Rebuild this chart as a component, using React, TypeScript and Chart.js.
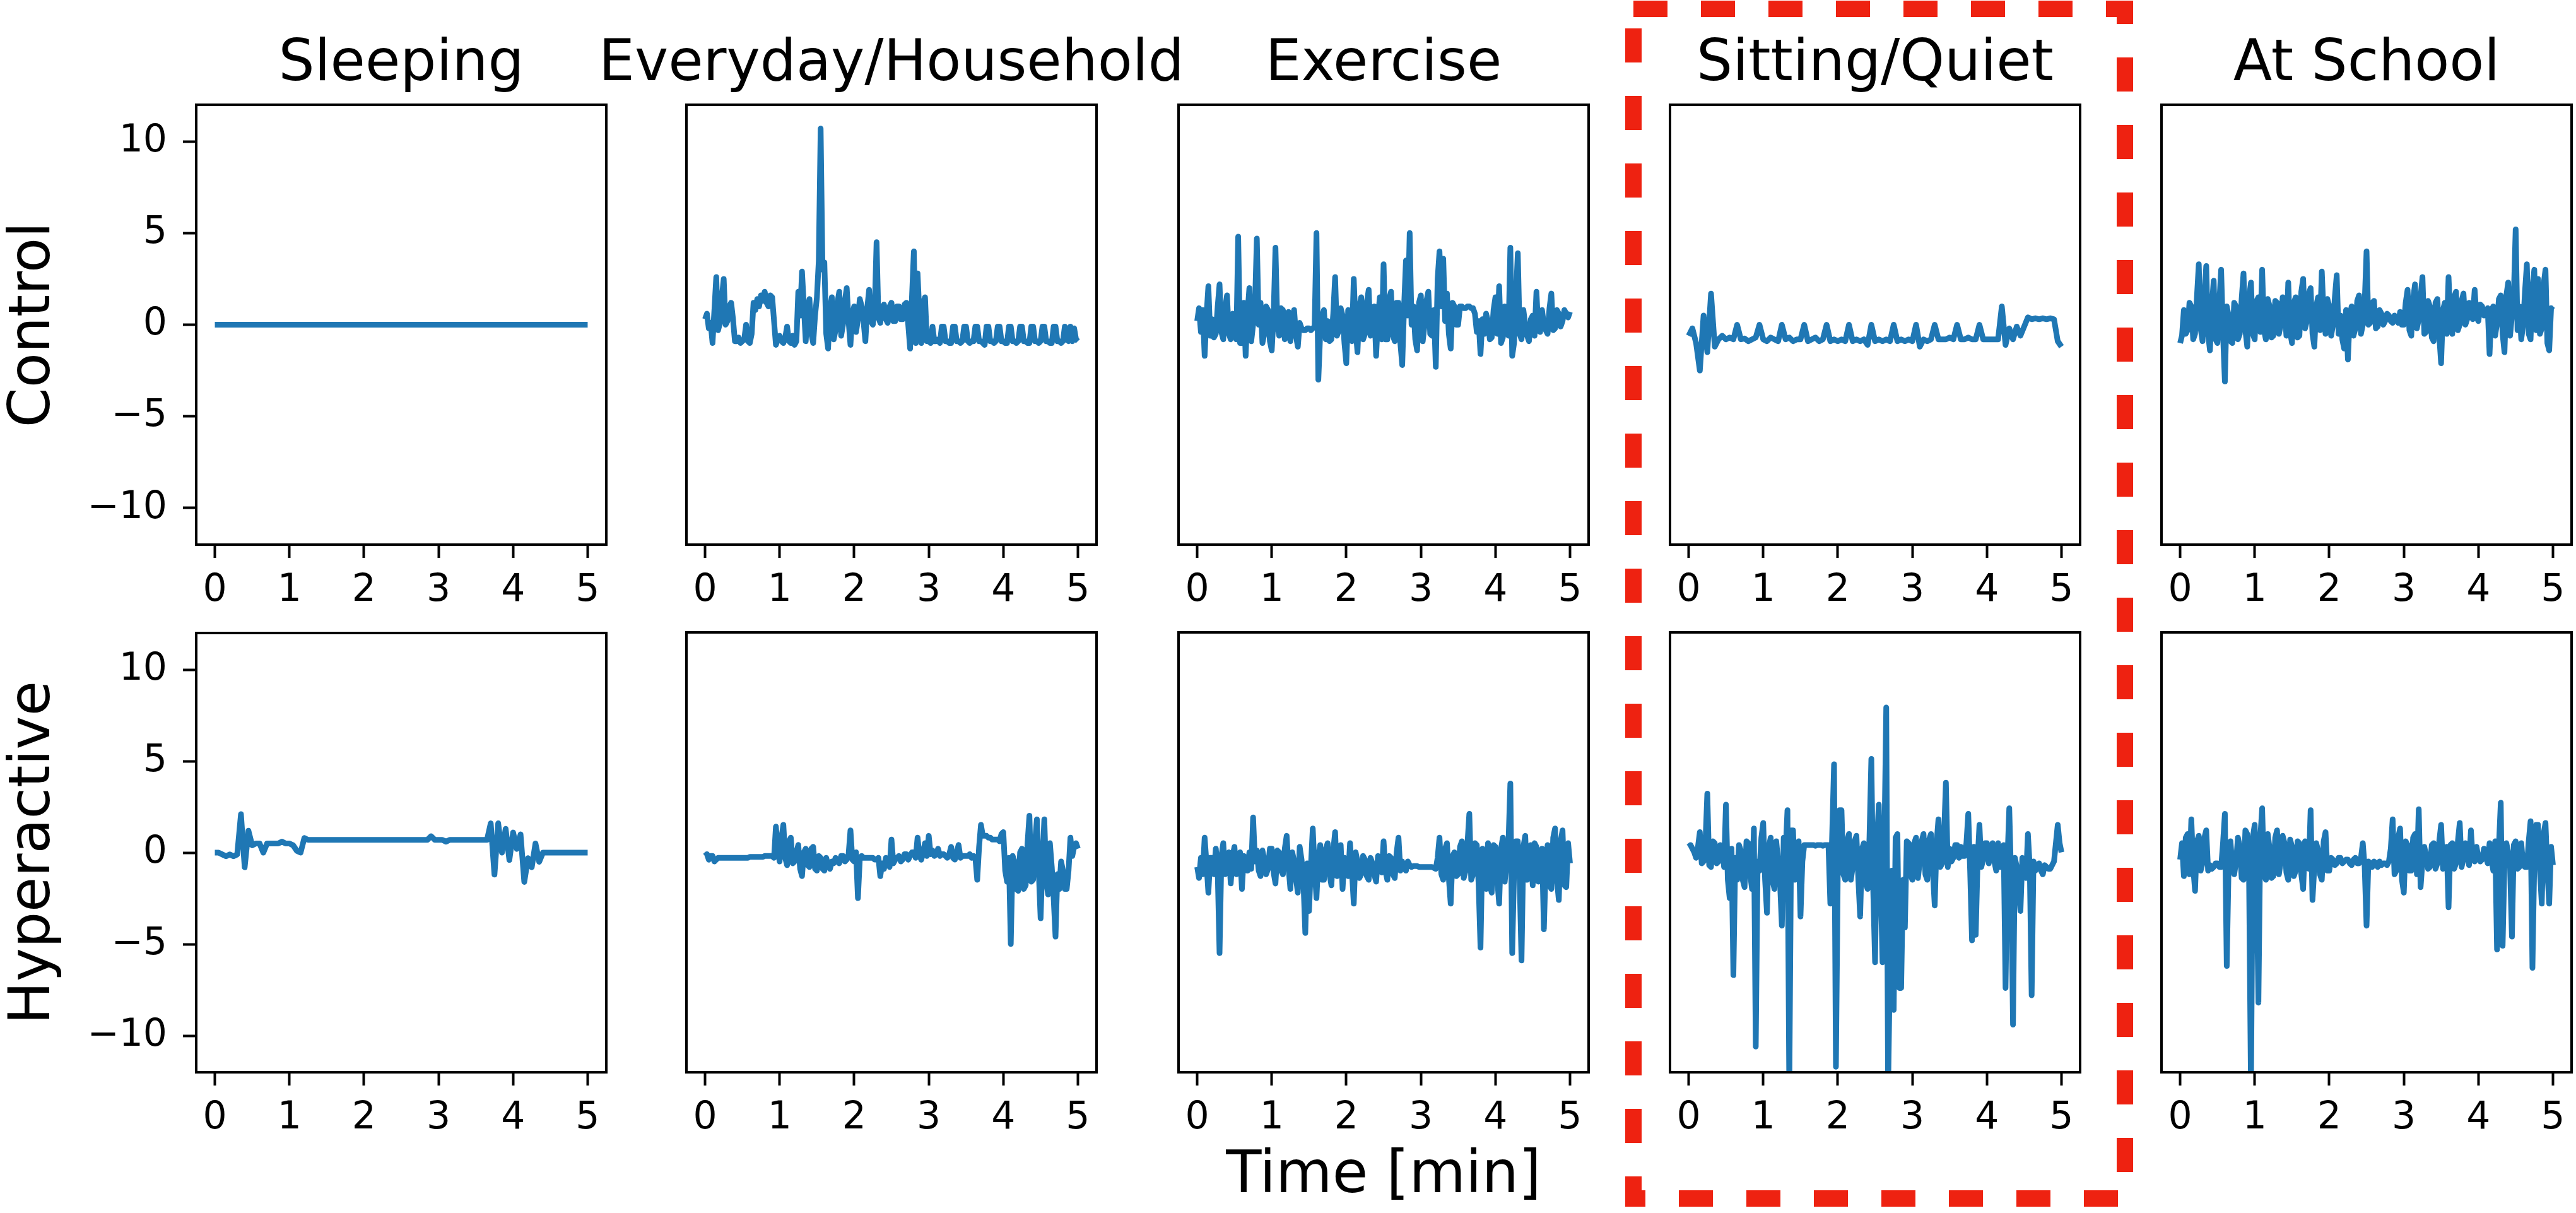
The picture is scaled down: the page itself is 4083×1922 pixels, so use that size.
import React, { useEffect, useRef } from "react";
import { Chart, registerables } from "chart.js";

Chart.register(...registerables);

// ---------------- data ----------------
const activities = ["Sleeping", "Everyday/Household", "Exercise", "Sitting/Quiet", "At School"];
const groups = ["Control", "Hyperactive"];
const xTickValues = [0, 1, 2, 3, 4, 5];
const yTickValues = [-10, -5, 0, 5, 10];
const timeMax = 5; // minutes

const controlSleeping = [0, 0, 0, 0, 0, 0, 0, 0, 0, 0, 0];

const controlEveryday = [
  0.3, 0.6, -0.2, 0.1, -1.0, 0.8, 2.6, -0.3, 0.1, 1.5, 2.5, 0.0, 0.2, 1.0, 1.2, 0.3, -0.9, -0.9, -0.7, -1.0,
  -0.9, -0.8, 0.0, -0.9, -1.0, -0.5, 1.2, 0.8, 1.4, 1.0, 1.6, 1.3, 1.8, 1.2, 1.0, 1.6, 1.5, 0.2, -1.1, -0.8,
  -0.6, -0.9, -1.0, -0.7, -0.1, -0.9, -1.0, -0.6, -1.1, -0.9, 1.8, 0.5, 2.9, 1.0, -0.9, 0.8, 1.4, -0.5, -1.0, 0.5,
  1.5, 3.5, 10.7, 3.0, 3.4, -0.5, -1.3, 0.9, 1.5, -0.8, -0.3, 1.2, 1.8, -0.6, 0.0, 1.3, 2.0, 0.2, -1.1, 0.6,
  1.0, -0.4, 0.3, 1.4, 1.0, 0.2, -0.9, 0.9, 1.9, 0.2, 0.0, 0.8, 4.5, 0.4, 0.1, 0.9, 1.1, 0.3, 0.1, 1.0,
  1.2, 0.2, 0.2, 1.0, 1.0, 0.3, 0.3, 1.1, 1.2, 0.0, -1.3, 1.5, 4.0, -1.0, 2.8, 0.5, -1.0, 1.2, 1.5, -0.9,
  -0.9, -1.0, -0.1, -0.9, -0.9, -0.8, -1.0, -0.1, -0.1, -0.9, -0.9, -1.0, -1.0, -0.1, -0.1, -0.9, -0.9, -1.0, -0.9, -0.1,
  -0.1, -0.9, -1.0, -0.9, -0.9, -0.1, -0.1, -0.9, -0.9, -1.0, -1.1, -0.1, -0.1, -0.9, -0.9, -1.0, -0.9, -0.1, -0.1, -0.9,
  -0.9, -1.0, -1.0, -0.1, -0.1, -0.9, -0.9, -1.0, -0.9, -0.1, -0.1, -0.9, -0.9, -1.0, -1.0, -0.1, -0.1, -0.9, -0.9, -1.0,
  -0.9, -0.1, -0.1, -0.9, -0.9, -1.0, -1.0, -0.1, -0.1, -0.9, -0.9, -1.0, -0.9, -0.1, -0.8, -0.9, -0.1, -0.9, -0.2, -0.8,
  -0.9,
];

const controlExercise = [
  0.2, 0.9, -0.4, 0.8, -1.7, 0.5, 2.1, -0.6, 0.3, -0.7, -0.5, 1.0, 2.2, -0.4, -0.8, 0.9, 1.6, -0.5, -0.8, 0.6,
  0.5, -0.8, 4.8, -1.0, -1.0, 1.2, -1.7, 0.6, 2.0, -0.9, 0.0, 1.0, 4.7, 0.0, 1.2, -1.0, -0.5, 1.0, 0.8, -0.9,
  -1.4, 0.5, 4.2, 0.0, -0.6, 0.9, 0.8, -0.8, -0.5, 0.7, -0.9, 0.2, 0.8, -0.6, -1.2, 0.1, -0.2, -0.3, -0.3, -0.2,
  -0.2, -0.3, -0.2, -0.1, 5.0, -3.0, -0.5, 0.5, 0.8, -0.8, 0.2, -0.9, -0.8, 0.6, 2.6, -0.6, -0.3, 0.9, 0.5, -1.0,
  -2.1, 0.8, 0.3, -0.9, 2.5, -0.2, -1.5, 1.0, 1.5, -0.8, -0.5, 1.2, 1.9, -0.6, -0.2, 1.0, -1.7, 0.4, 1.5, -0.8,
  3.3, -0.8, -0.8, 1.4, 1.8, -0.6, -0.9, 1.2, 1.2, -1.0, -2.2, 1.0, 3.5, 0.5, 5.0, 0.0, 1.0, -0.8, -1.4, 1.2,
  1.6, -0.9, 0.0, 1.3, 1.8, -0.5, -0.6, 0.8, -2.3, 2.5, 4.0, 1.0, 3.6, 0.2, 1.7, -0.5, -1.3, 1.2, 1.0, 0.0,
  0.0, 1.0, 1.0, 0.9, 0.9, 1.0, 1.0, 0.9, 0.9, 0.6, -0.4, 0.2, -1.6, 0.3, -0.5, 0.6, 0.2, -0.8, -0.7, 0.8,
  1.5, -0.5, 2.1, -1.0, -0.7, 1.0, 0.8, -0.6, 4.2, -1.7, -1.0, 1.5, 3.9, -0.5, -0.8, 0.8, 0.0, -0.6, -0.9, 0.3,
  0.5, -0.6, 1.8, -0.3, -0.4, 0.8, 0.0, -0.3, -0.5, 0.9, 1.7, -0.3, -0.2, 0.8, 0.6, -0.1, 0.2, 0.8, 0.6, 0.4,
  0.7,
];

const controlSitting = [
  -0.6, -0.2, -1.0, -2.5, 0.5, -1.5, 1.7, -1.2, -0.8, -0.6,
  -0.8, -0.7, -0.8, 0.0, -0.8, -0.75, -0.9, -0.8, -0.7, 0.0,
  -0.8, -0.9, -0.7, -0.8, -0.9, 0.0, -0.8, -0.7, -0.9, -0.8,
  -0.8, 0.0, -0.9, -0.8, -0.7, -0.9, -0.8, 0.0, -0.9, -0.8,
  -0.9, -0.8, -0.9, 0.0, -0.9, -0.8, -0.9, -0.8, -1.1, 0.0,
  -0.9, -0.8, -0.9, -0.8, -0.9, 0.0, -0.9, -0.8, -0.9, -0.8,
  -0.9, 0.0, -1.2, -0.8, -0.9, -0.8, 0.0, -0.8, -0.8, -0.8,
  -0.7, -0.8, 0.0, -0.8, -0.8, -0.7, -0.8, -0.8, 0.0, -0.8,
  -0.8, -0.8, -0.8, -0.8, 1.0, -1.1, -0.2, -0.8, -0.1, -0.6,
  -0.1, 0.4, 0.3, 0.35, 0.3, 0.35, 0.3, 0.35, 0.3, -0.9,
  -1.2,
];

const controlSchool = [
  -1.0, -0.6, 0.8, -0.5, -0.3, 1.2, 1.0, -0.8, -0.5, 1.5, 3.3, -0.2, -0.9, 1.5, 3.2, -0.5, -1.4, 1.0, 2.4, -0.8,
  -1.0, 1.2, 3.0, -0.5, -3.1, 1.0, 0.5, -0.9, -1.0, 1.2, 1.0, -0.8, -0.5, 1.4, 2.8, -0.3, -1.2, 1.5, 2.3, -0.5,
  -0.8, 1.3, 1.5, -0.4, 3.0, -0.3, -0.8, 1.4, 1.0, -0.7, -0.6, 1.3, 1.2, -0.5, 0.0, 1.5, 1.0, -0.6, 2.3, -0.4,
  -1.0, 1.2, 1.5, -0.7, -0.6, 1.8, 2.5, -0.2, 0.2, 1.7, 2.0, -0.5, -1.2, 1.0, 1.5, -0.3, 2.9, 0.5, -0.5, 1.4,
  1.0, -0.6, 0.0, 1.5, 2.7, -0.5, 0.5, -0.8, -1.3, 0.8, -1.9, 0.5, 1.0, -0.6, -0.2, 1.3, 1.6, -0.5, 0.0, 1.2,
  4.0, 0.0, 0.1, 1.2, 1.3, -0.2, -0.1, 0.8, 0.6, 0.0, 0.2, 0.6, 0.5, 0.2, 0.1, 0.5, 0.4, 0.1, 0.7, 0.0,
  0.0, 1.2, 1.9, -0.3, -0.6, 1.4, 2.2, -0.2, 0.3, 1.5, 2.6, -0.5, -0.4, 1.3, 1.0, -0.7, -0.9, 1.2, 1.4, -0.6,
  -2.1, 0.8, 1.2, -0.5, 2.6, 0.2, -0.5, 1.5, 1.8, -0.3, 0.0, 1.3, 1.7, 0.0, 0.3, 1.2, 0.8, 0.3, 1.9, 0.4,
  0.2, 1.1, 1.0, 0.5, 0.8, 0.9, -1.6, 0.8, 1.0, -0.6, 0.1, 1.4, 1.6, -0.5, -1.5, 1.6, 2.3, -0.6, 0.5, 1.6,
  5.2, -0.3, 1.0, -0.8, 0.0, 1.8, 3.3, -0.5, -0.8, 2.0, 3.0, -0.3, 2.5, -0.5, -0.2, 2.2, 3.0, -1.0, -1.4, 0.9,
  0.8,
];

const hyperSleeping = [
  0.0, 0.0, -0.1, -0.2, -0.1, -0.2, -0.1, 2.1, -0.8, 1.2,
  0.4, 0.5, 0.5, 0.0, 0.5, 0.5, 0.5, 0.5, 0.6, 0.5,
  0.5, 0.4, 0.1, 0.0, 0.8, 0.7, 0.7, 0.7, 0.7, 0.7,
  0.7, 0.7, 0.7, 0.7, 0.7, 0.7, 0.7, 0.7, 0.7, 0.7,
  0.7, 0.7, 0.7, 0.7, 0.7, 0.7, 0.7, 0.7, 0.7, 0.7,
  0.7, 0.7, 0.7, 0.7, 0.7, 0.7, 0.7, 0.7, 0.9, 0.7,
  0.7, 0.7, 0.6, 0.7, 0.7, 0.7, 0.7, 0.7, 0.7, 0.7,
  0.7, 0.7, 0.7, 0.7, 1.6, -1.2, 1.6, 0.0, 1.3, -0.4,
  1.1, 0.2, 1.0, -1.6, -0.3, -0.8, 0.5, -0.5, 0.0, 0.0,
  0.0, 0.0, 0.0, 0.0, 0.0, 0.0, 0.0, 0.0, 0.0, 0.0,
  0.0,
];

const hyperEveryday = [
  -0.2, -0.1, -0.4, -0.2, -0.2, -0.5, -0.4, -0.3, -0.3, -0.3, -0.3, -0.3, -0.3, -0.3, -0.3, -0.3, -0.3, -0.3, -0.3, -0.3,
  -0.3, -0.3, -0.3, -0.3, -0.25, -0.25, -0.25, -0.25, -0.25, -0.25, -0.25, -0.25, -0.2, -0.2, -0.2, -0.2, -0.2, -0.3, 1.4, 0.2,
  -0.5, 0.8, 1.5, -0.3, -0.7, 0.6, 0.8, -0.6, -0.5, 0.0, 0.4, -0.9, -1.3, 0.0, 0.2, -0.7, -0.8, 0.2, 0.3, -0.9,
  -1.0, -0.2, -0.3, -0.9, -1.0, -0.3, -0.7, -0.9, -0.5, -0.6, -0.3, -0.5, -0.6, -0.2, -0.2, -0.5, -0.4, -0.1, 1.2, -0.4,
  -0.5, 0.0, -2.5, -0.4, -0.2, -0.3, -0.3, -0.3, -0.3, -0.3, -0.3, -0.4, -0.4, -0.3, -1.3, -0.6, -0.9, -0.3, -0.6, -0.8,
  0.7, -0.6, -0.4, -0.3, -0.2, -0.5, -0.4, -0.1, -0.1, -0.4, -0.2, 0.0, 0.0, -0.3, 0.8, -0.2, -0.4, 0.0, 0.5, -0.2,
  0.9, -0.1, 0.1, -0.2, -0.1, 0.2, -0.2, -0.1, -0.1, -0.2, -0.3, -0.1, 0.3, -0.3, -0.4, 0.0, 0.4, -0.3, -0.2, -0.2,
  -0.2, -0.2, -0.1, -0.3, -0.2, -0.3, -1.5, 0.3, 1.5, 0.9, 0.9, 0.9, 0.8, 0.8, 0.7, 0.7, 0.7, 0.7, 0.6, 1.0,
  1.1, -1.0, -1.6, -0.3, -5.0, -0.2, -0.5, -2.0, -2.1, 0.0, 0.2, -2.0, -1.8, 0.5, 2.0, -1.6, -1.5, 0.5, 1.8, -1.0,
  -3.6, -0.5, 1.8, -1.5, -2.3, 0.5, -0.8, -2.5, -4.6, -1.2, -2.0, -0.5, -1.0, -2.0, -2.0, -1.0, 0.8, -0.2, 0.3, 0.5,
  0.2,
];

const hyperExercise = [
  -0.8, -1.4, -0.3, -1.2, 0.8, -0.6, -2.2, -0.3, -0.3, -1.2, 0.2, -1.0, -5.5, -0.2, 0.5, -1.2, -1.0, 0.0, -1.7, -0.2,
  0.3, -1.2, -0.6, 0.0, -2.0, -0.2, -0.3, -1.0, 0.0, -0.9, 1.9, -0.5, 0.1, -1.0, -1.3, 0.1, -0.4, -1.2, -0.9, 0.2,
  0.2, -1.1, -1.7, 0.1, 0.0, -1.0, -1.2, 0.2, 0.9, -0.8, -2.0, 0.0, -0.5, -1.4, -2.2, 0.3, -0.4, -1.6, -4.4, -0.6,
  -3.2, -0.8, 1.3, -0.9, -2.5, -0.3, 0.4, -1.5, -1.5, 0.2, 0.5, -1.2, -1.8, 0.1, 1.1, -1.3, -0.6, 0.4, -2.0, -0.3,
  -0.4, -1.3, 0.5, -1.0, -2.8, 0.0, -0.5, -1.4, -1.2, -0.2, -0.4, -1.3, -1.5, -0.3, -0.6, -1.2, -1.6, -0.2, -0.4, -1.1,
  0.6, -1.0, -1.5, -0.2, -0.3, -1.2, -1.4, 0.0, 0.8, -1.0, -0.5, -0.9, -1.0, -0.5, -0.7, -0.8, -0.75, -0.75, -0.75, -0.8,
  -0.8, -0.8, -0.8, -0.8, -0.8, -0.8, -0.8, -0.85, -0.9, -0.3, 0.8, -1.2, -1.5, 0.2, 0.5, -1.4, -2.8, -0.2, 0.0, -1.3,
  -1.2, 0.3, 0.6, -1.4, -1.0, 0.5, 2.1, -1.5, -1.2, 0.5, 0.4, -1.8, -5.2, 0.2, -1.5, -2.0, 0.5, -1.8, -2.2, 0.4,
  0.3, -1.5, -2.8, 0.2, 0.8, -1.6, -0.5, 0.5, 3.75, -5.5, -1.0, 0.6, 0.6, -1.5, -5.9, 0.3, 0.9, -1.5, -0.5, 0.4,
  -1.8, 0.5, 0.3, -1.6, -1.3, 0.2, -4.2, -0.6, 0.4, -1.8, -2.0, 0.8, 1.3, -1.5, -2.6, 0.6, 1.2, -1.8, -1.9, 0.5,
  -0.6,
];

const hyperSitting = [
  0.3, 0.4, 0.2, 0.0, -0.3, 0.3, 1.1, -0.6, -0.5, 0.5, 3.2, -0.7, -0.8, 0.6, 0.5, -0.6, -0.5, 0.4, 0.2, -0.8,
  2.6, -1.5, -2.5, 0.2, -6.7, -0.3, -1.5, 0.4, 0.1, -1.5, -1.9, 0.6, 0.5, -1.2, -2.0, 1.3, -10.6, -0.5, -1.0, 0.8,
  1.6, -1.5, -3.3, 0.3, 0.8, -1.5, -2.0, 0.6, -0.5, -1.6, -4.0, 0.8, 0.0, 2.3, -13, 1.2, 1.2, -1.5, -1.0, 0.6,
  -3.5, -0.5, 0.4, 0.4, 0.4, 0.4, 0.4, 0.4, 0.35, 0.4, 0.4, 0.4, 0.35, 0.4, 0.4, 0.4, -2.8, 1.0, 4.8, -11.7,
  -1.0, 2.3, 2.3, -1.2, -1.5, 0.6, 1.0, -1.5, -0.8, 0.6, 0.9, -1.4, -3.5, 0.2, 0.5, -1.7, -2.0, 0.8, 5.1, -2.0,
  -6.0, 0.5, 2.6, -1.5, -6.0, 0.5, 7.9, -13, -6.0, -1.0, -8.6, 0.8, 1.0, -7.4, -7.4, -1.5, -4.1, 0.6, 0.5, -1.2,
  -1.5, 0.5, 0.8, -1.4, -0.5, 0.6, 1.0, -1.2, -1.5, 0.7, 1.0, -1.0, -2.9, 0.5, 1.8, -0.8, -0.6, 0.9, 3.8, -0.8,
  0.2, -0.5, -0.3, 0.4, 0.4, -0.3, 0.3, -0.2, -0.2, 0.5, 2.1, -1.0, -4.8, 0.3, -4.5, -0.5, 1.5, -0.8, -0.4, 0.5,
  0.5, -0.6, 0.0, 0.5, -0.5, -1.0, 0.5, -0.8, -0.8, 0.4, -7.4, -0.5, 2.4, -1.5, -9.4, -0.3, -0.8, -1.8, -3.2, -0.3,
  -0.5, -1.4, 1.0, -0.8, -7.8, -0.5, -1.0, -0.7, -0.6, -1.0, -1.2, -0.7, -0.8, -0.9, -0.9, -0.7, -0.5, 0.5, 1.5, 0.5,
  0.0,
];

const hyperSchool = [
  -0.4, 0.5, -1.3, 0.8, 1.0, -1.2, 1.8, -0.8, -2.1, 0.6, 0.9, -1.0, -0.6, 0.8, 1.2, -1.0, -0.7, -0.9, -0.8, -0.6,
  -0.6, -0.8, -0.8, 0.5, 2.1, -6.2, -0.8, 0.6, -0.7, -1.2, -0.5, 0.8, 0.3, -1.4, -1.5, 1.2, 1.0, -1.6, -13, 0.8,
  1.5, -1.5, -8.2, 0.8, 2.4, -1.2, -1.5, 1.0, 0.2, -1.4, -1.3, 0.8, 1.2, -1.2, -0.5, 0.9, 0.5, -1.1, -1.5, 0.7,
  0.3, -1.3, -1.0, 0.6, 0.5, -1.2, -2.0, 0.6, 0.2, -0.9, 2.3, -2.6, -0.8, 0.5, 0.1, -1.2, -1.5, 0.6, 1.1, -1.0,
  -1.0, -0.3, -0.4, -0.7, -0.6, -0.3, -0.3, -0.6, -0.5, -0.4, -0.4, -0.6, -0.7, -0.4, -0.3, -0.6, -0.6, -0.3, 0.5, -0.8,
  -4.0, -0.5, -0.6, -0.8, -0.5, -0.6, -0.8, -0.5, -0.7, -0.6, -0.6, -0.7, -0.5, 0.2, 1.8, -1.2, -1.0, 0.8, 1.3, -1.5,
  -2.2, 0.6, 0.4, -1.0, -1.0, 0.8, 1.0, -1.2, 2.35, -1.9, -0.5, 0.3, -0.2, -0.9, -0.8, 0.4, 0.5, -0.9, -0.6, 0.6,
  1.5, -0.9, -0.8, 0.3, -3.0, 0.4, 0.5, -0.9, -0.6, 0.6, 1.6, -0.8, -0.3, 0.5, -0.2, -0.7, 1.2, -0.4, -0.5, 0.3,
  -0.3, -0.5, -0.4, 0.2, -0.2, -0.6, 0.5, -0.4, -1.0, 0.6, -5.3, 0.3, 2.7, -5.1, -0.6, 0.5, 0.0, -0.8, -4.6, 0.4,
  0.6, -0.9, -0.8, 0.5, -0.7, -0.8, -0.8, 0.6, 1.7, -6.3, -0.5, 1.5, 1.5, -1.0, -2.8, 1.0, 1.6, -1.0, -2.8, 0.3,
  -0.7,
];

const seriesGrid = [
  [controlSleeping, controlEveryday, controlExercise, controlSitting, controlSchool],
  [hyperSleeping, hyperEveryday, hyperExercise, hyperSitting, hyperSchool],
];

// ---------------- layout (pixels) ----------------
const PAGE_W = 4083;
const PAGE_H = 1922;
const COL_LEFT = [311, 1088, 1868, 2647, 3426];
const BOX_W = 650;
const ROW_TOP = [166, 1002];
const BOX_H = 697;
const SIDE = 311; // symmetric horizontal margin of each panel canvas
const FONT = "'DejaVu Sans', 'Liberation Sans', sans-serif";
const LINE_BLUE = "#1f77b4";

const fmt = (v: number) => (v < 0 ? "\u2212" + Math.abs(v) : String(v));

const framePlugin = {
  id: "frame",
  afterDatasetsDraw(chart: any) {
    const { ctx, chartArea } = chart;
    const { left, top, right, bottom } = chartArea;
    ctx.save();
    ctx.strokeStyle = "#000";
    ctx.lineWidth = 4;
    ctx.strokeRect(left, top, right - left, bottom - top);
    ctx.restore();
  },
};

function Panel({ r, c }: { r: number; c: number }) {
  const ref = useRef<HTMLCanvasElement | null>(null);

  const TM = r === 0 ? ROW_TOP[0] : 60;
  const BM = r === 0 ? 130 : PAGE_H - (ROW_TOP[1] + BOX_H);
  const canvasLeft = COL_LEFT[c] - SIDE;
  const canvasTop = ROW_TOP[r] - TM;
  const W = SIDE + BOX_W + SIDE;
  const H = TM + BOX_H + BM;

  useEffect(() => {
    if (!ref.current) return;
    const values = seriesGrid[r][c];
    const data = values.map((v, i) => ({ x: (i * timeMax) / (values.length - 1), y: v }));
    const padT = r === 0 ? 0 : TM;
    const titleFont = 90;
    const titleLine = titleFont * 1.2;
    const titlePadTop = 104 - titleLine / 2;
    const titlePadBottom = TM - titlePadTop - titleLine;
    const first = c === 0;

    const chart = new Chart(ref.current, {
      type: "line",
      data: {
        datasets: [
          {
            data,
            yAxisID: "y",
            borderColor: LINE_BLUE,
            backgroundColor: LINE_BLUE,
            borderWidth: 9,
            pointRadius: 0,
            pointHoverRadius: 0,
            tension: 0,
            fill: false,
            clip: 0,
            borderJoinStyle: "round",
            borderCapStyle: "butt",
          } as any,
        ],
      },
      options: {
        animation: false,
        responsive: false,
        devicePixelRatio: 1,
        events: [],
        layout: {
          autoPadding: false,
          padding: { left: 0, top: padT, right: 0, bottom: 0 },
        },
        plugins: {
          legend: { display: false },
          tooltip: { enabled: false },
          title:
            r === 0
              ? {
                  display: true,
                  text: activities[c],
                  color: "#000",
                  font: { family: FONT, size: titleFont, weight: "normal", lineHeight: 1.2 },
                  padding: { top: titlePadTop, bottom: titlePadBottom },
                }
              : { display: false },
        },
        scales: {
          x: {
            type: "linear",
            min: -0.25,
            max: 5.25,
            afterBuildTicks: (s: any) => {
              s.ticks = xTickValues.map((v) => ({ value: v }));
            },
            afterFit: (s: any) => {
              s.height = BM;
            },
            grid: {
              drawOnChartArea: false,
              drawTicks: true,
              tickLength: 21,
              tickWidth: 4,
              tickColor: "#000",
              color: "#000",
            },
            border: { display: false },
            ticks: {
              color: "#000",
              font: { family: FONT, size: 60 },
              padding: 16,
              maxRotation: 0,
              autoSkip: false,
              callback: (v: any) => fmt(Number(v)),
            },
            title:
              r === 1 && c === 2
                ? {
                    display: true,
                    text: "Time [min]",
                    color: "#000",
                    font: { family: FONT, size: 92, lineHeight: 1.2 },
                    padding: { top: 0, bottom: 2 },
                  }
                : { display: false },
          },
          y: {
            type: "linear",
            position: "left",
            min: -12,
            max: 12,
            afterBuildTicks: (s: any) => {
              s.ticks = yTickValues.map((v) => ({ value: v }));
            },
            afterFit: (s: any) => {
              s.width = SIDE;
            },
            grid: {
              display: first,
              drawOnChartArea: false,
              drawTicks: true,
              tickLength: 21,
              tickWidth: 4,
              tickColor: "#000",
              color: "#000",
            },
            border: { display: false },
            ticks: {
              display: first,
              color: "#000",
              font: { family: FONT, size: 60 },
              padding: 25,
              autoSkip: false,
              callback: (v: any) => fmt(Number(v)),
            },
            title: {
              display: first,
              text: groups[r],
              color: "#000",
              font: { family: FONT, size: 90, lineHeight: 1.2 },
              padding: { top: 1, bottom: 0 },
            },
          },
          yRight: {
            type: "linear",
            position: "right",
            min: -12,
            max: 12,
            afterFit: (s: any) => {
              s.width = SIDE;
            },
            grid: { display: false, drawTicks: false },
            border: { display: false },
            ticks: { display: false },
            title: { display: false },
          },
        },
      } as any,
      plugins: [framePlugin],
    });
    return () => chart.destroy();
  }, [r, c]);

  return (
    <canvas
      ref={ref}
      width={W}
      height={H}
      style={{ position: "absolute", left: canvasLeft, top: canvasTop, width: W, height: H }}
    />
  );
}

export default function App() {
  const panels: React.ReactNode[] = [];
  for (let r = 0; r < 2; r++) {
    for (let c = 0; c < 5; c++) {
      panels.push(<Panel key={`${r}-${c}`} r={r} c={c} />);
    }
  }
  return (
    <div
      style={{
        position: "absolute",
        left: 0,
        top: 0,
        width: PAGE_W,
        height: PAGE_H,
        background: "#fff",
        overflow: "hidden",
      }}
    >
      {panels}
      <svg
        width={PAGE_W}
        height={PAGE_H}
        style={{ position: "absolute", left: 0, top: 0, pointerEvents: "none" }}
      >
        <rect
          x={2589}
          y={14}
          width={779}
          height={1885}
          fill="none"
          stroke="#ee2211"
          strokeWidth={26}
          strokeDasharray="54 53"
        />
      </svg>
    </div>
  );
}
